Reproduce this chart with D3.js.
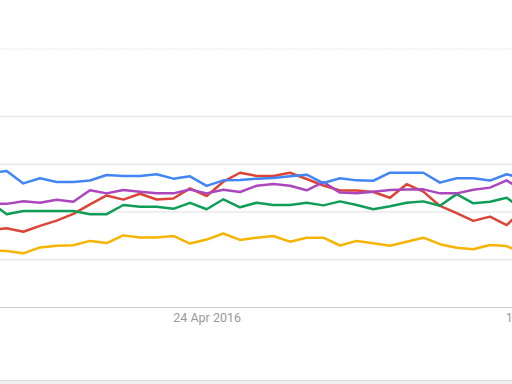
<!DOCTYPE html>
<html>
<head>
<meta charset="utf-8">
<script src="https://cdn.jsdelivr.net/npm/d3@7"></script>
<style>
html,body{margin:0;padding:0;background:#fff;overflow:hidden;}
svg{display:block;}
</style>
</head>
<body>
<svg id="chart" width="512" height="384"></svg>
<script>
// Weekly data, first week 24 Jan 2016
const startWeek = "2016-01-24";
const tickLabels = ["2016-04-24", "2016-09-11"];
const yTicks = [0, 25, 50, 75, 100];

const seriesBlue   = [70.1,71.2,64.7,67.4,65.4,65.4,66.2,69.1,68.6,68.6,69.5,67.2,68.4,63.4,66.3,66.5,67.2,67.5,68.4,69.3,64.9,67.4,66.3,66.1,70.3,70.3,70.3,65.1,67.4,67.4,66.2,69.5,67.2];
const seriesRed    = [40.3,41.2,39.4,42.5,45.2,48.8,53.7,58.4,56.2,59.3,56.3,56.8,62.1,58.1,65.6,70.3,68.6,68.6,70.3,67.0,63.6,61.0,61.0,60.2,57.2,64.3,60.4,52.9,49.1,45.1,47.3,42.9,51.1];
const seriesPurple = [54.2,54.0,55.4,54.6,56.2,55.1,61.1,59.5,61.3,60.4,59.5,59.5,61.5,59.5,61.4,60.2,63.5,64.4,63.5,61.1,65.4,59.9,59.5,60.4,61.3,61.5,61.6,59.5,59.5,61.4,62.5,66.3,60.7];
const seriesGreen  = [55.0,48.6,50.3,50.3,50.3,50.3,48.6,48.6,53.4,52.5,52.5,51.4,54.5,51.2,56.4,52.2,54.6,53.4,53.4,54.6,53.2,55.3,53.4,51.2,52.7,54.6,55.3,53.0,59.1,54.3,55.1,57.2,50.8];
const seriesYellow = [29.7,29.3,28.1,31.2,32.1,32.3,34.6,33.5,37.5,36.4,36.4,37.2,33.2,35.3,38.5,35.1,36.3,37.2,34.2,36.3,36.3,32.2,34.6,33.4,32.1,34.2,36.3,32.9,31.0,30.2,32.5,31.9,28.0];

const svg = d3.select("#chart");
const parse = d3.utcParse("%Y-%m-%d");
const t0 = parse(startWeek);
const weekMs = 7 * 24 * 3600 * 1000;
const dates = seriesBlue.map((_, i) => new Date(t0.getTime() + i * weekMs));

const x = d3.scaleUtc()
  .domain([t0, new Date(t0.getTime() + 33 * weekMs)])
  .range([-10, 540]);
const y = d3.scaleLinear().domain([0, 100]).range([307, 116]);

// top separator line
svg.append("line").attr("x1", 0).attr("x2", 512).attr("y1", 49).attr("y2", 49)
  .attr("stroke", "#eee").attr("stroke-width", 1.5).attr("stroke-dasharray", "2,1");

// gridlines
const grid = svg.append("g")
  .call(d3.axisLeft(y).tickValues(yTicks).tickSize(-512).tickFormat(""));
grid.select(".domain").remove();
grid.selectAll(".tick line")
  .attr("stroke", d => d === 0 ? "#ccc" : "#e8e8e8")
  .attr("stroke-width", d => d === 0 ? 1.2 : 1.5);

// x axis labels
const xAxis = svg.append("g").attr("transform", "translate(0,307)")
  .call(d3.axisBottom(x).tickValues(tickLabels.map(parse))
    .tickFormat(d3.utcFormat("%-d %b %Y")).tickSize(0).tickPadding(4));
xAxis.select(".domain").remove();
xAxis.selectAll("text")
  .attr("fill", "#999").attr("font-family", "Roboto, sans-serif").attr("font-size", 12.5)
  .attr("dy", "0.85em");

// bottom border
svg.append("rect").attr("x", 0).attr("y", 380).attr("width", 512).attr("height", 4).attr("fill", "#f0f0f0");
svg.append("line").attr("x1", 0).attr("x2", 512).attr("y1", 380.5).attr("y2", 380.5)
  .attr("stroke", "#ddd").attr("stroke-width", 1);

const line = d3.line().x((d, i) => x(dates[i])).y(d => y(d));
const series = [
  {values: seriesYellow, color: "#f4b400"},
  {values: seriesRed, color: "#db4437"},
  {values: seriesGreen, color: "#0f9d58"},
  {values: seriesPurple, color: "#ab47bc"},
  {values: seriesBlue, color: "#4285f4"}
];
svg.append("g").selectAll("path").data(series).join("path")
  .attr("d", d => line(d.values))
  .attr("fill", "none")
  .attr("stroke", d => d.color)
  .attr("stroke-width", 2.5)
  .attr("stroke-linejoin", "round");
</script>
</body>
</html>
